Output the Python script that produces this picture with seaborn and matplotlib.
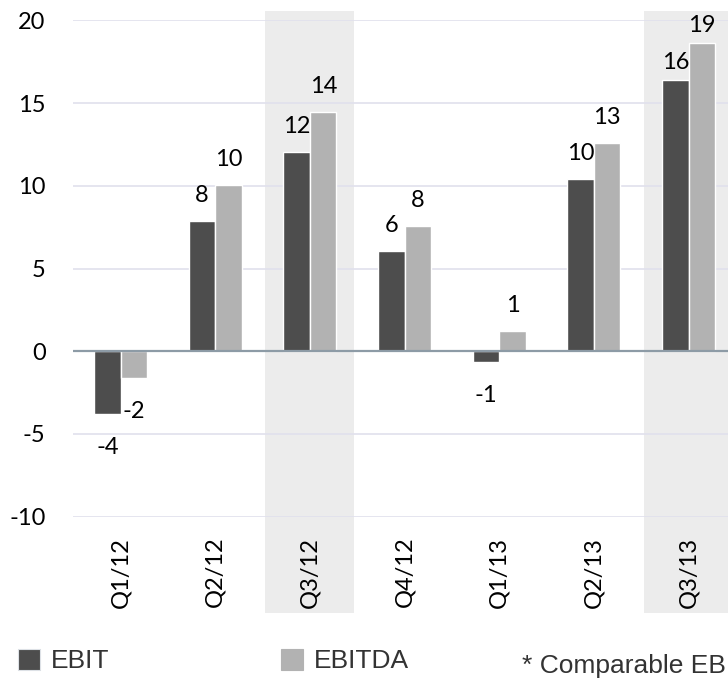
import pandas as pd
import matplotlib.pyplot as plt
import seaborn as sns
from matplotlib.patches import Patch

# ---------------------------------------------------------
# data
# ---------------------------------------------------------
quarters = ['Q1/12', 'Q2/12', 'Q3/12', 'Q4/12', 'Q1/13', 'Q2/13', 'Q3/13']
ebit = [-3.8, 7.9, 12.05, 6.05, -0.65, 10.4, 16.4]
ebitda = [-1.62, 10.04, 14.45, 7.6, 1.22, 12.6, 18.65]
highlighted = ['Q3/12', 'Q3/13']
series = ['EBIT', 'EBITDA']
footnote = '* Comparable EBITDA'

df = pd.DataFrame({
    'quarter': quarters * 2,
    'series': [series[0]] * len(quarters) + [series[1]] * len(quarters),
    'value': ebit + ebitda,
})

dark = '#4d4d4d'
light = '#b2b2b2'

# ---------------------------------------------------------
# plot
# ---------------------------------------------------------
sns.set_style('white')
plt.rcParams['font.family'] = ['Lato', 'DejaVu Sans']
plt.rcParams['axes.unicode_minus'] = False

fig = plt.figure(figsize=(7.28, 6.8), dpi=100)
ax = fig.add_axes([0.1007, 0.2401, 0.8993, 0.73])

sns.barplot(
    data=df,
    x='quarter',
    y='value',
    hue='series',
    order=quarters,
    palette=[dark, light],
    width=0.56,
    saturation=1,
    legend=False,
    zorder=2,
    ax=ax
)

# shaded quarters (extend above the plot and behind the tick labels)
for q in highlighted:
    i = quarters.index(q)
    band = ax.axvspan(i - 0.47, i + 0.47, ymin=-0.1934, ymax=1.0187,
                      color='#ececec', zorder=0, lw=0)
    band.set_clip_on(False)

ax.set_ylim(-10, 20)
ax.set_xlim(-0.5, 6.416)
ax.set_yticks([-10, -5, 0, 5, 10, 15, 20])

for v in [-10, -5, 5, 10, 15, 20]:
    ax.axhline(v, color='#e0e0ec', lw=1.2, zorder=0.5)
ax.axhline(0, color='#8d9ba6', lw=1.6, zorder=3)

for s in ax.spines.values():
    s.set_visible(False)

ax.tick_params(axis='both', length=0, labelsize=17, colors='black')
ax.tick_params(axis='y', pad=20)
ax.tick_params(axis='x', pad=14.5, labelrotation=90)
ax.set_xlabel('')
ax.set_ylabel('')

# value labels
for cont in ax.containers:
    for k, bar in enumerate(cont):
        h = bar.get_height()
        xc = bar.get_x() + bar.get_width() / 2
        if h >= 0:
            off = 7.7 if k == len(quarters) - 1 else 13.5
        else:
            off = -28.7
        ax.annotate(f'{h:.0f}', (xc, h), xytext=(0, off),
                    textcoords='offset points', ha='center',
                    va='baseline', fontsize=17, color='black')

# legend
handles = [
    Patch(facecolor=dark, edgecolor='#dde1e6', lw=0.8, label=series[0]),
    Patch(facecolor=light, edgecolor=light, lw=0.8, label=series[1]),
]
fig.legend(
    handles=handles,
    loc='center left',
    bbox_to_anchor=(18 / 728, 1 - 661 / 680),
    ncol=2,
    frameon=False,
    borderpad=0,
    borderaxespad=0,
    handlelength=0.85,
    handleheight=0.89,
    handletextpad=0.4,
    columnspacing=6.5,
    prop={'family': 'Liberation Sans', 'size': 19},
    labelcolor='#333333'
)

fig.text(522 / 728, 1 - 673 / 680, footnote, family='Liberation Sans',
         fontsize=19, color='#333333', va='baseline', ha='left')

fig.savefig('out.png', dpi=100)
